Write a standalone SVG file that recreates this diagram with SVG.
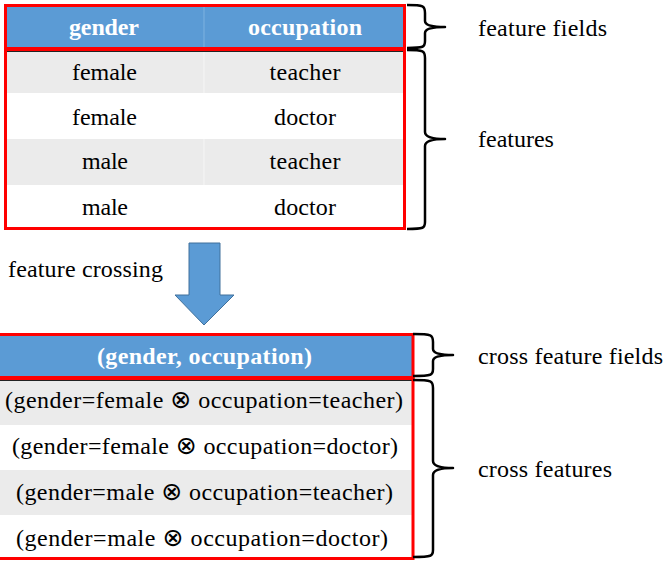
<svg xmlns="http://www.w3.org/2000/svg" width="670" height="564" viewBox="0 0 670 564">
<style>
text{font-family:"Liberation Serif",Tinos,"Times New Roman",Times,"Nimbus Roman","Noto Serif","DejaVu Serif",serif;font-size:24px;fill:#000}
.hd{font-weight:bold;fill:#fff;text-anchor:middle}
.c{text-anchor:middle}
.ot{font-family:"DejaVu Sans",sans-serif;font-size:25px}
.red{fill:none;stroke:#ff0000;stroke-width:3}
.gray{fill:#ebebeb}
.blue{fill:#5b9bd5}
.brace{fill:none;stroke:#000;stroke-width:2.5;stroke-linejoin:round}
</style>
<rect width="670" height="564" fill="#fff"/>
<g id="table-top">
<rect class="blue" x="5" y="5" width="400" height="44"/>
<line x1="204" y1="6" x2="204" y2="48" stroke="#7fb2e0" stroke-width="1"/>
<rect class="gray" x="5" y="51" width="400" height="42"/>
<rect class="gray" x="5" y="139" width="400" height="46"/>
<line x1="204" y1="51" x2="204" y2="93" stroke="#f6f6f6" stroke-width="1"/>
<line x1="204" y1="139" x2="204" y2="185" stroke="#f6f6f6" stroke-width="1"/>
<line x1="5" y1="51.5" x2="405" y2="51.5" stroke="#222" stroke-width="1"/>
<rect class="red" x="5.5" y="5.5" width="399" height="43"/>
<rect class="red" x="5.5" y="49.5" width="399" height="179"/>
<text class="hd" x="104" y="35" textLength="70">gender</text>
<text class="hd" x="305" y="35" textLength="114">occupation</text>
<text class="c" x="104.5" y="80" textLength="65">female</text>
<text class="c" x="305" y="80" textLength="71">teacher</text>
<text class="c" x="104.5" y="125" textLength="65">female</text>
<text class="c" x="305" y="125" textLength="62">doctor</text>
<text class="c" x="105" y="169" textLength="46">male</text>
<text class="c" x="305" y="169" textLength="71">teacher</text>
<text class="c" x="105" y="215" textLength="46">male</text>
<text class="c" x="305" y="215" textLength="62">doctor</text>
</g>
<g id="table-bottom">
<rect class="blue" x="0" y="335" width="413" height="42"/>
<rect class="gray" x="0" y="380" width="413" height="45"/>
<rect class="gray" x="0" y="470" width="413" height="45"/>
<line x1="0" y1="380.5" x2="413" y2="380.5" stroke="#222" stroke-width="1"/>
<rect class="red" x="-2" y="334.5" width="415" height="43"/>
<rect class="red" x="-2" y="378.5" width="415" height="180"/>
<text class="hd" x="204.5" y="364" textLength="215">(gender, occupation)</text>
<text class="c" x="204" y="408" textLength="398">(gender=female <tspan class="ot">⊗</tspan> occupation=teacher)</text>
<text class="c" x="205" y="454" textLength="386">(gender=female <tspan class="ot">⊗</tspan> occupation=doctor)</text>
<text class="c" x="204.5" y="500" textLength="377">(gender=male <tspan class="ot">⊗</tspan> occupation=teacher)</text>
<text class="c" x="202" y="546" textLength="372">(gender=male <tspan class="ot">⊗</tspan> occupation=doctor)</text>
</g>
<g id="arrow">
<polygon points="189,243 220,243 220,295 234,295 204,325 175,295 189,295" fill="#5b9bd5" stroke="#41719c" stroke-width="1"/>
<text x="8" y="277" textLength="155">feature crossing</text>
</g>
<g id="connectors">
<path class="brace" d="M407,5 C424,5 425,6 425,13 L425,21 Q425,27 445,27 Q425,27 425,33 L425,41 C425,47 424,48 407,48"/>
<path class="brace" d="M407,50 C424,50 425,51 425,58 L425,132 Q425,139 445,139 Q425,139 425,146 L425,222 C425,228 424,229 407,229"/>
<path class="brace" d="M413,334 C432,334 433,335 433,342 L433,349 Q433,355 453,355 Q433,355 433,361 L433,369 C433,375 432,376 413,376"/>
<path class="brace" d="M413,380 C432,380 433,381 433,388 L433,461 Q433,468 453,468 Q433,468 433,475 L433,550 C433,556 432,557 413,557"/>
</g>
<g id="labels">
<text x="478" y="36" textLength="129">feature fields</text>
<text x="478" y="147">features</text>
<text x="478" y="364" textLength="185">cross feature fields</text>
<text x="478" y="477" textLength="134">cross features</text>
</g>
</svg>
